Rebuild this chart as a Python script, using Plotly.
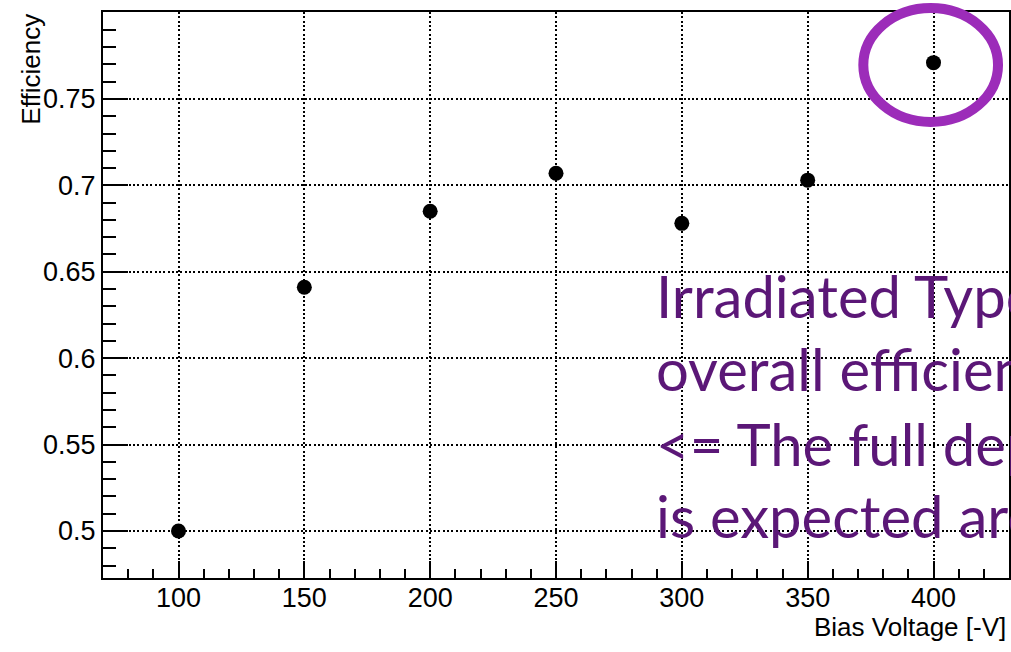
import plotly.graph_objects as go

# ---- data ----
bias_voltage = [100, 150, 200, 250, 300, 350, 400]
efficiency = [0.500, 0.641, 0.685, 0.707, 0.678, 0.703, 0.771]

x_title = "Bias Voltage [-V]"
y_title = "Efficiency"
note_lines = ["Irradiated Type-II", "overall efficiency", "<= The full depletion", "is expected around"]

W, H = 1011, 652
L, R, T, B = 103, 0, 12, 74
pw, ph = W - L - R, H - T - B

def px(x):
    return (x - L) / pw

def py(y):
    return (H - B - y) / ph

tick_font = dict(family="Liberation Sans, Arial, sans-serif", size=27, color="black")

fig = go.Figure()
fig.add_trace(go.Scatter(
    x=bias_voltage, y=efficiency, mode="markers",
    marker=dict(color="black", size=15, line=dict(width=0)),
    showlegend=False, cliponaxis=False,
))

axis_common = dict(
    showline=True, linecolor="black", linewidth=2, mirror=True,
    showgrid=True, gridcolor="black", gridwidth=1.6, griddash="2px,2.3px",
    ticks="inside", tickcolor="black", tickwidth=1.5,
    tickfont=tick_font, zeroline=False,
)

fig.update_layout(
    width=W, height=H,
    margin=dict(l=L, r=R, t=T, b=B, pad=0),
    paper_bgcolor="white", plot_bgcolor="white",
    xaxis=dict(range=[70, 430], tick0=0, dtick=50, ticklen=17, ticklabelstandoff=-5,
               minor=dict(ticks="inside", dtick=10, ticklen=9, tickcolor="black", tickwidth=1.5, showgrid=False),
               **axis_common),
    yaxis=dict(range=[0.4728, 0.8003], tick0=0.5, dtick=0.05, ticklen=25,
               minor=dict(ticks="inside", dtick=0.01, ticklen=13, tickcolor="black", tickwidth=1.5, showgrid=False),
               **axis_common),
)

# white text box covering the grid
fig.add_shape(type="rect", xref="paper", yref="paper",
              x0=px(653), x1=1.05, y0=py(566), y1=py(243),
              fillcolor="white", line=dict(width=0), layer="between")

# purple ellipse highlighting the 400 V point
fig.add_shape(type="circle", xref="paper", yref="paper",
              x0=px(865), x1=px(1000), y0=py(122), y1=py(8),
              line=dict(color="#9c2cb9", width=10), fillcolor="rgba(0,0,0,0)", layer="above")

# axis titles
fig.add_annotation(text=y_title, xref="paper", yref="paper", x=px(30), y=1.0,
                   xanchor="center", yanchor="top", textangle=-90, showarrow=False,
                   font=dict(family="Liberation Sans, Arial, sans-serif", size=26, color="black"))
fig.add_annotation(text=x_title, xref="paper", yref="paper", x=px(1010), y=py(610),
                   xanchor="right", yanchor="top", showarrow=False,
                   font=dict(family="Liberation Sans, Arial, sans-serif", size=26, color="black"))

# purple note lines
mids = [295, 368, 443, 515]
for line, m in zip(note_lines, mids):
    fig.add_annotation(text=line, xref="paper", yref="paper", x=px(655), y=py(m),
                       xanchor="left", yanchor="middle", showarrow=False,
                       font=dict(family="Lato, sans-serif", size=58, color="#5b1777"))

fig.write_html("out.html")
